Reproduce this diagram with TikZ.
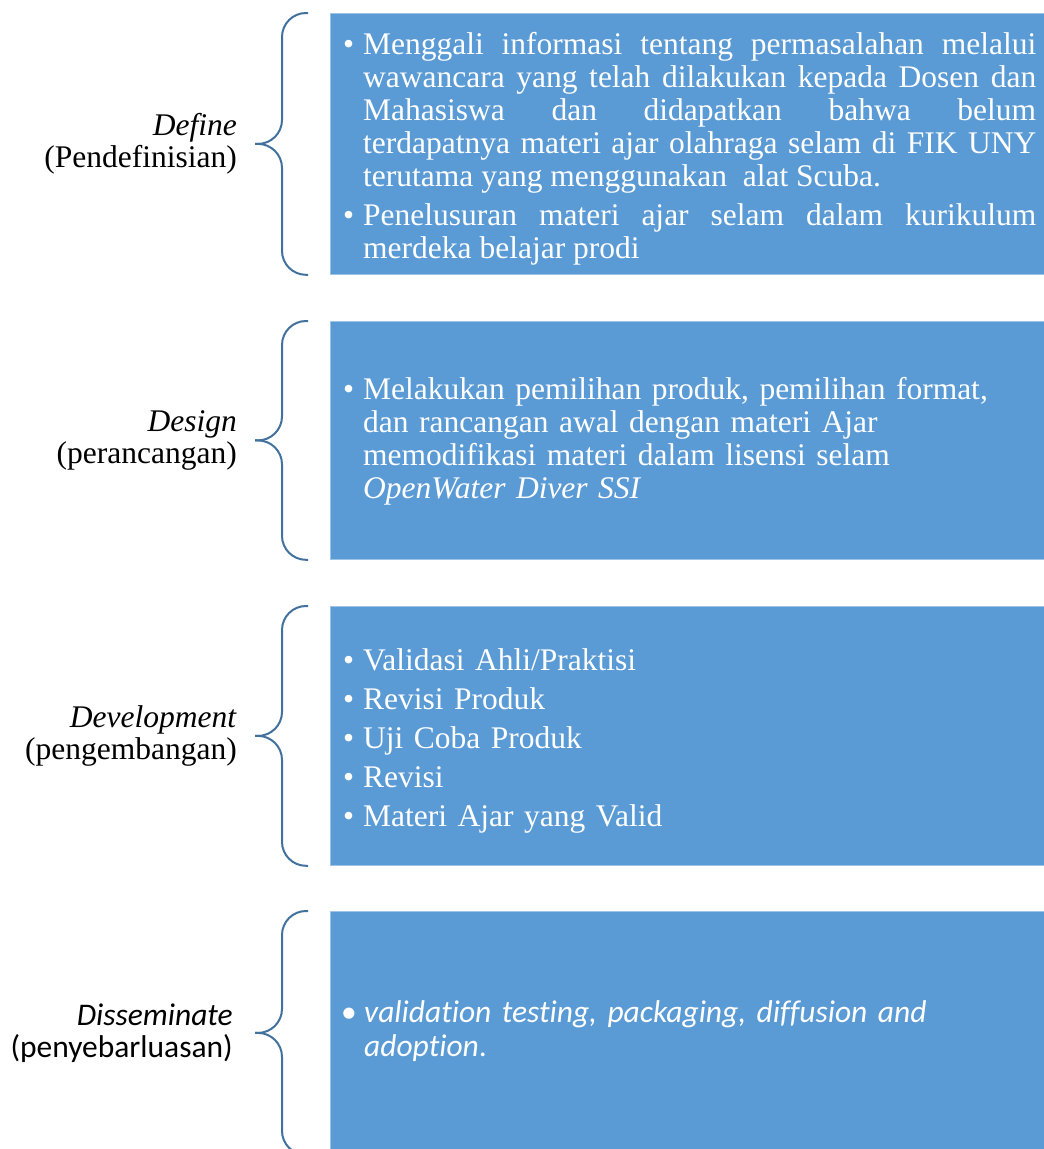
\documentclass[tikz,border=0pt]{standalone}
\usepackage{fontspec}
\setmainfont{Liberation Serif}
\newfontfamily\calfont{Carlito}[Ligatures=NoCommon]
\definecolor{sablue}{RGB}{91,155,213}
\definecolor{sabrace}{RGB}{65,113,156}
\usetikzlibrary{positioning}
\newcommand{\bitem}[2][20pt]{\par\parskip=6pt\noindent\hangindent=#1\hangafter=1\makebox[#1][l]{\textbullet}#2\par}

\begin{document}
\begin{tikzpicture}[x=1pt, y=-1pt,
  card/.style={fill=sablue, draw=sablue!60!white, line width=0.8pt, minimum width=714pt, anchor=north west, inner sep=0pt},
  txt/.style={text=white, text width=693pt, inner sep=0pt, yshift=4pt, font=\fontsize{31.5pt}{33pt}\selectfont},
  lbl/.style={align=right, inner sep=0pt, font=\fontsize{31.5pt}{32pt}\selectfont},
  brc/.style={draw=sabrace, line width=2pt, rounded corners=24pt}]
\useasboundingbox (0,0) rectangle (1044,1149);
% Boxes
\node[card, minimum height=261pt] (b1) at (330,13) {};
\node[card, minimum height=238pt] (b2) at (330,321) {};
\node[card, minimum height=259pt] (b3) at (330,606) {};
\node[card, minimum height=243pt] (b4) at (330,911) {};
% Braces
\foreach \b in {b1,b2,b3,b4}{
  \draw[brc] ([xshift=-22pt]\b.north west) -- ([xshift=-48pt]\b.north west) -- ([xshift=-48pt]\b.west) -- ([xshift=-75pt]\b.west);
  \draw[brc] ([xshift=-75pt]\b.west) -- ([xshift=-48pt]\b.west) -- ([xshift=-48pt]\b.south west) -- ([xshift=-22pt]\b.south west);
  \coordinate (\b tip) at ([xshift=-75pt]\b.west);
}
% Phases
\node[lbl, left=18pt of b1tip] (l1) {\textit{Define}\\(Pendefinisian)};
\node[lbl, left=18pt of b2tip] (l2) {\textit{Design}\\(perancangan)};
\node[lbl, left=18pt of b3tip] (l3) {\textit{Development}\\(pengembangan)};
\node[lbl, left=22pt of b4tip, font=\calfont\fontsize{31.5pt}{32pt}\selectfont] (l4) {\textit{Disseminate}\\(penyebarluasan)};
% Box texts
\node[txt, align=justify, right=13pt of b1.west] (t1) {%
  \bitem{Menggali informasi tentang permasalahan melalui\linebreak wawancara yang telah dilakukan kepada Dosen dan\linebreak Mahasiswa dan didapatkan bahwa belum\linebreak terdapatnya materi ajar olahraga selam di FIK UNY\linebreak terutama yang menggunakan\ \ alat Scuba.}
  \bitem{Penelusuran materi ajar selam dalam kurikulum\linebreak merdeka belajar prodi}};
\node[txt, align=left, right=13pt of b2.west, yshift=4pt] (t2) {%
  \bitem{Melakukan pemilihan produk, pemilihan format,\newline dan rancangan awal dengan materi Ajar\newline memodifikasi materi dalam lisensi selam\newline \textit{OpenWater Diver SSI}}};
\node[txt, align=left, right=13pt of b3.west] (t3) {%
  \bitem{Validasi Ahli/Praktisi}
  \bitem{Revisi Produk}
  \bitem{Uji Coba Produk}
  \bitem{Revisi}
  \bitem{Materi Ajar yang Valid}};
\node[txt, align=left, right=11pt of b4.west, yshift=7pt, font=\calfont\fontsize{31.5pt}{34pt}\selectfont] (t4) {%
  \bitem[23pt]{\textit{validation testing, packaging, diffusion and\newline adoption}.}};
\end{tikzpicture}
\end{document}
